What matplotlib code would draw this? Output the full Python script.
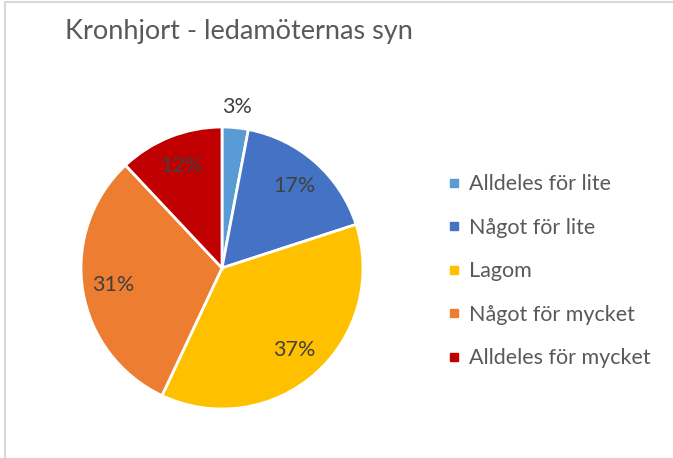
import matplotlib.pyplot as plt
from matplotlib.lines import Line2D
from matplotlib.patches import Rectangle

title = "Kronhjort - ledamöternas syn"
categories = ["Alldeles för lite", "Något för lite", "Lagom", "Något för mycket", "Alldeles för mycket"]
shares = [3, 17, 37, 31, 12]
colors = ["#5B9BD5", "#4472C4", "#FFC000", "#ED7D31", "#C00000"]

plt.rcParams['font.family'] = ['Lato', 'DejaVu Sans']
W, H = 673, 458
fig = plt.figure(figsize=(W / 100, H / 100), dpi=100)

# chart frame (only left and top edges visible in the crop)
fig.patches.append(Rectangle((5 / W, -0.1), 1.2, (H - 2) / H + 0.1, transform=fig.transFigure,
                             fill=False, edgecolor="#D9D9D9", linewidth=1.5))

fig.text(65 / W, (H - 32) / H, title, fontsize=19.5, color="#595959", va="center", ha="left")

ax = fig.add_axes([81 / W, (H - 409) / H, 282 / W, 282 / H])
wedges, _, pcts = ax.pie(shares, colors=colors, startangle=90, counterclock=False,
                         autopct=lambda p: f"{p:.0f}%", pctdistance=0.78,
                         wedgeprops=dict(edgecolor="white", linewidth=2),
                         textprops=dict(fontsize=15.5, color="#404040"))
# the smallest slice gets its label outside, as in the original
x, y = pcts[0].get_position()
pcts[0].set_position((x * 1.15 / 0.78, y * 1.15 / 0.78))
ax.set_xlim(-1, 1)
ax.set_ylim(-1, 1)
ax.set_aspect("equal")

handles = [Line2D([], [], marker="s", linestyle="none", markersize=5.5, color=c) for c in colors]
fig.legend(handles, categories, loc="upper left", bbox_to_anchor=(428 / W, (H - 155) / H),
           frameon=False, fontsize=15.5, labelcolor="#595959", handletextpad=0.4,
           labelspacing=1.09, handlelength=0.6, borderpad=0.4)

fig.savefig("out.png", dpi=100)
